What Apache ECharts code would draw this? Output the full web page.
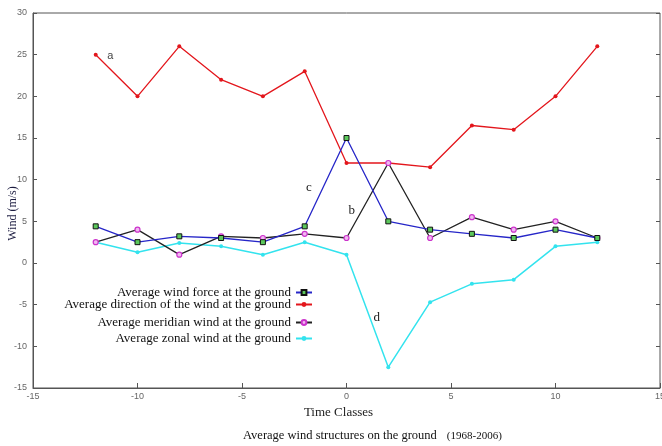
<!DOCTYPE html>
<html>
<head>
<meta charset="utf-8">
<script src="https://cdn.jsdelivr.net/npm/echarts@6/dist/echarts.min.js"></script>
<style>
  html, body { margin: 0; padding: 0; background: #fff; }
  #chart { width: 662px; height: 446px; }
</style>
</head>
<body>
<div id="chart"></div>
<script>
var timeClasses = [-12, -10, -8, -6, -4, -2, 0, 2, 4, 6, 8, 10, 12];
var windForce = [4.4, 2.5, 3.2, 3.0, 2.5, 4.4, 15, 5, 4, 3.5, 3, 4, 3];
var windDirection = [25, 20, 26, 22, 20, 23, 12, 12, 11.5, 16.5, 16, 20, 26];
var meridianWind = [2.5, 4, 1, 3.2, 3, 3.5, 3, 12, 3, 5.5, 4, 5, 3];
var zonalWind = [2.5, 1.3, 2.4, 2, 1, 2.5, 1, -12.5, -4.7, -2.5, -2, 2, 2.5];

var names = [
  'Average wind force at the ground',
  'Average direction of the wind at the ground',
  'Average meridian wind at the ground',
  'Average zonal wind at the ground'
];
// annotation letters: [x, y, text]
var notes = [[-11.3, 24.9, 'a'], [0.25, 6.3, 'b'], [-1.8, 9.0, 'c'], [1.45, -6.6, 'd']];

function pairs(ys) {
  return timeClasses.map(function (x, i) { return [x, ys[i]]; });
}

var serif = '"Liberation Serif", "Times New Roman", serif';
var sans = '"Liberation Sans", Arial, sans-serif';
var axisGray = '#555';

var chart = echarts.init(document.getElementById('chart'), null, { renderer: 'canvas' });

var legendTops = [281, 293, 311, 327];
var legends = names.map(function (n, i) {
  return {
    data: [n],
    right: 344,
    top: legendTops[i],
    align: 'right',
    itemWidth: 16,
    itemHeight: 6,
    itemGap: 4,
    selectedMode: false,
    textStyle: { fontFamily: serif, fontSize: 13, color: '#111' }
  };
});

function noteMarks(letter) {
  return notes.filter(function (n) { return n[2] === letter; }).map(function (n) {
    return {
      coord: [n[0], n[1]],
      symbolSize: 0,
      label: {
        show: true,
        position: 'inside',
        formatter: n[2],
        fontFamily: letter === 'a' ? sans : serif,
        fontSize: letter === 'a' ? 11 : 13,
        color: letter === 'a' ? '#444' : '#222'
      }
    };
  });
}

chart.setOption({
  animation: false,
  backgroundColor: '#fff',
  title: {
    text: '{a|Average wind structures on the ground}  {b|(1968-2006)}',
    left: 238,
    top: 422,
    textStyle: {
      fontWeight: 'normal',
      rich: {
        a: { fontFamily: serif, fontSize: 12.5, color: '#111', fontWeight: 'normal' },
        b: { fontFamily: serif, fontSize: 11, color: '#111', fontWeight: 'normal' }
      }
    }
  },
  legend: legends,
  grid: {
    left: 33, right: 2, top: 13, bottom: 58,
    containLabel: false, outerBoundsMode: 'none',
    show: true, borderColor: axisGray, borderWidth: 1
  },
  xAxis: {
    type: 'value',
    min: -15,
    max: 15,
    interval: 5,
    name: 'Time Classes',
    nameLocation: 'middle',
    nameGap: 18,
    nameMoveOverlap: false,
    nameTextStyle: { fontFamily: serif, fontSize: 13, color: '#222', padding: [0, 16, 0, 0] },
    axisLine: { onZero: false, lineStyle: { color: axisGray } },
    axisTick: { inside: true, length: 5, lineStyle: { color: axisGray } },
    axisLabel: { fontFamily: sans, fontSize: 9, color: '#666', margin: 4 },
    splitLine: { show: false }
  },
  yAxis: [{
    type: 'value',
    min: -15,
    max: 30,
    interval: 5,
    name: 'Wind (m/s)',
    nameLocation: 'middle',
    nameRotate: 90,
    nameGap: 14,
    nameMoveOverlap: false,
    nameTextStyle: { fontFamily: serif, fontSize: 12, color: '#1c1c40', padding: [0, 26, 0, 0] },
    axisLine: { onZero: false, lineStyle: { color: axisGray } },
    axisTick: { inside: true, length: 4, lineStyle: { color: axisGray } },
    axisLabel: { fontFamily: sans, fontSize: 9, color: '#666', margin: 6 },
    splitLine: { show: false }
  }, {
    type: 'value',
    position: 'right',
    min: -15,
    max: 30,
    interval: 5,
    axisLine: { show: false, onZero: false },
    axisTick: { show: true, inside: true, length: 4, lineStyle: { color: axisGray } },
    axisLabel: { show: false },
    splitLine: { show: false }
  }],
  series: [{
    name: names[0],
    type: 'line',
    data: pairs(windForce),
    symbol: 'rect',
    symbolSize: 5,
    z: 4,
    lineStyle: { color: '#2626c8', width: 1.3 },
    itemStyle: { color: '#5cc85c', borderColor: '#111', borderWidth: 1 },
    markPoint: { silent: true, data: noteMarks('c') }
  }, {
    name: names[1],
    type: 'line',
    data: pairs(windDirection),
    symbol: 'circle',
    symbolSize: 4,
    z: 3,
    lineStyle: { color: '#e3161c', width: 1.3 },
    itemStyle: { color: '#e3161c' },
    markPoint: { silent: true, data: noteMarks('a') }
  }, {
    name: names[2],
    type: 'line',
    data: pairs(meridianWind),
    symbol: 'circle',
    symbolSize: 5,
    z: 3,
    lineStyle: { color: '#222', width: 1.3 },
    itemStyle: { color: '#f0b8f0', borderColor: '#cc33cc', borderWidth: 1.2 },
    markPoint: { silent: true, data: noteMarks('b') }
  }, {
    name: names[3],
    type: 'line',
    data: pairs(zonalWind),
    symbol: 'circle',
    symbolSize: 4,
    z: 2,
    lineStyle: { color: '#33e3ee', width: 1.5 },
    itemStyle: { color: '#33e3ee' },
    markPoint: { silent: true, data: noteMarks('d') }
  }]
});
window.addEventListener('resize', function () { chart.resize(); });
</script>
</body>
</html>
